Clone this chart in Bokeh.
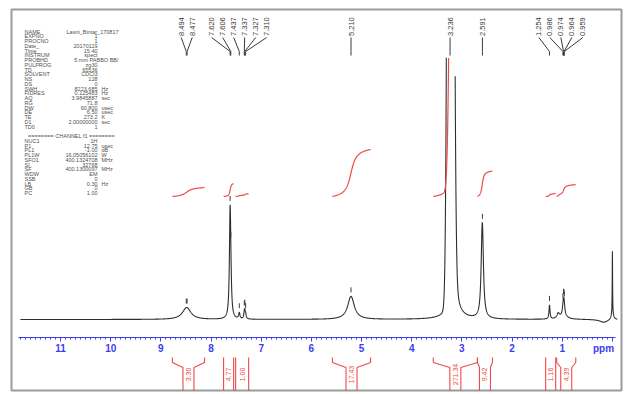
import numpy as np
from bokeh.plotting import figure
from bokeh.models import Range1d, FixedTicker, Label
from bokeh.core.properties import value
from bokeh.embed import file_html
from bokeh.resources import INLINE

# ---------------- data ----------------
# spectrum peaks: position (ppm), height (intensity units), half width (ppm), shape
peak_ppm = [8.494, 8.477, 7.620, 7.606, 7.437, 7.337, 7.327, 7.310, 5.210,
            3.236, 3.200, 3.170, 2.591, 2.606, 1.254, 1.080,
            0.986, 0.974, 0.964, 0.959, 0.970, 0.000, 0.000, 0.170]
peak_height = [6, 6, 103, 20, 6, 5, 6, 4, 23,
               1300, 600, 45, 86, 15, 14, 5,
               5, 8, 6, 4, 4, 63, 6, -3]
peak_width = [0.10, 0.10, 0.016, 0.016, 0.015, 0.012, 0.012, 0.012, 0.08,
              0.040, 0.040, 0.09, 0.025, 0.02, 0.012, 0.03,
              0.015, 0.015, 0.015, 0.015, 0.08, 0.004, 0.03, 0.10]
peak_shape = ["L", "L", "L", "L", "L", "L", "L", "L", "L",
              "G", "G", "L", "L", "L", "L", "L",
              "L", "L", "L", "L", "L", "L", "L", "L"]

# picked peak labels (top)
label_ppm = [8.494, 8.477, 7.620, 7.606, 7.437, 7.337, 7.327, 7.310, 5.210,
             3.236, 2.591, 1.254, 0.986, 0.974, 0.964, 0.959]

# integrals (bottom)
int_start = [8.77, 7.75, 7.51, 5.58, 3.57, 2.69, 1.33, 1.11]
int_end = [8.13, 7.55, 7.25, 4.82, 2.69, 2.39, 1.13, 0.73]
int_value = [3.30, 4.77, 1.00, 17.43, 271.34, 9.42, 1.16, 4.39]
int_label = ["3.30", "4.77", "1.00", "17.43", "271.34", "9.42", "1.16", "4.39"]

# axis ticks
tick_values = [0, 1, 2, 3, 4, 5, 6, 7, 8, 9, 10, 11]
tick_labels = ["", "1", "2", "3", "4", "5", "6", "7", "8", "9", "10", "11"]

# acquisition parameter block
param_names = ["NAME", "EXPNO", "PROCNO", "Date_", "Time", "INSTRUM", "PROBHD",
               "PULPROG", "TD", "SOLVENT", "NS", "DS", "SWH", "FIDRES", "AQ",
               "RG", "DW", "DE", "TE", "D1", "TD0", "",
               "", "NUC1", "P1", "PL1", "PL1W", "SFO1", "SI", "SF", "WDW",
               "SSB", "LB", "GB", "PC"]
param_values = ["Lasni_Bintar_170817", "1", "1", "20170119", "15.40", "spect",
                "5 mm PABBO BB/", "zg30", "65536", "CDCl3", "128", "0",
                "8223.685", "0.125483", "3.9845887", "71.8", "60.800", "6.50",
                "273.2", "2.00000000", "1", "",
                "", "1H", "12.75", "-1.00", "16.05056102", "400.1324708",
                "32768", "400.1300097", "EM", "0", "0.30", "0", "1.00"]
param_units = ["", "", "", "", "", "", "", "", "", "", "", "", "Hz", "Hz", "sec",
               "", "usec", "usec", "K", "sec", "", "",
               "", "", "usec", "dB", "W", "MHz", "", "MHz", "", "", "Hz", "", ""]
channel_title = "======== CHANNEL f1 ========"

# ---------------- geometry helpers (page pixels -> data) ----------------
PX = 50.17      # pixels per ppm
X0 = 611.9      # page x of 0 ppm
BASE_Y = 319    # page y of the spectrum baseline
FL, FT, FR, FB = 11, 9, 621, 390   # frame edges on the page


def xp(page_x):
    return (X0 - page_x) / PX


def yp(page_y):
    return BASE_Y - page_y


p = figure(width=627, height=394, output_backend="svg", toolbar_location=None,
           x_range=Range1d(xp(FL), xp(FR)), y_range=Range1d(yp(FB), yp(FT)),
           min_border_left=FL, min_border_top=FT, min_border_right=627 - FR,
           min_border_bottom=394 - FB, y_axis_location=None)
p.grid.visible = False
p.outline_line_color = "#9c9c9c"
p.outline_line_width = 2
p.background_fill_color = "white"
p.border_fill_color = "white"

# ---------------- spectrum ----------------
ppm = np.arange(11.80, -0.10, -0.002)
spec = np.zeros_like(ppm)
for c, h, w, s in zip(peak_ppm, peak_height, peak_width, peak_shape):
    if s == "G":
        spec += h * np.exp(-0.5 * ((ppm - c) / w) ** 2)
    else:
        spec += h / (1 + ((ppm - c) / w) ** 2)

clip = yp(56)
spec_plot = np.where(spec > clip, np.nan, spec)
p.line(ppm, spec_plot, line_color="#2e2e2e", line_width=1.1)

# ---------------- integrals ----------------
RED = "#f04848"
int_base = yp(196)
k = 47 / 17.43
for a, b, v in zip(int_start, int_end, int_value):
    m = (ppm <= a) & (ppm >= b)
    seg = np.clip(spec[m], 0, None)
    cum = np.cumsum(seg)
    cum = cum / cum[-1] * v * k + int_base
    cum = np.where(cum > clip, np.nan, cum)
    p.line(ppm[m], cum, line_color=RED, line_width=1.2)

# brackets + values under the axis
g = 5.5 / PX
y_top, y_mid, y_diag, y_bot = yp(357), yp(362), yp(367), yp(396)
bxs, bys = [], []
for a, b in zip(int_start, int_end):
    c = (a + b) / 2
    half = (a - b) / 2
    if half > g + 2 / PX:
        bxs += [[a, a, c + g, c + g], [b, b, c - g, c - g]]
        bys += [[y_top, y_mid, y_diag, y_bot]] * 2
    else:
        bxs += [[a, a], [b, b]]
        bys += [[y_top, y_bot]] * 2
p.multi_line(bxs, bys, line_color=RED, line_width=1.1)
p.text([(a + b) / 2 for a, b in zip(int_start, int_end)], [yp(374)] * len(int_label),
       text=int_label, angle=np.pi / 2, text_align="center", text_baseline="middle",
       text_color=RED, text_font=value("Liberation Sans"), text_font_size="7px")

# ---------------- peak labels on top ----------------
peak_px = [X0 - PX * v for v in label_ppm]
SP = 11.0
clusters = [[i] for i in range(len(peak_px))]


def place(cl):
    cen = np.mean([peak_px[i] for i in cl])
    return [cen + (j - (len(cl) - 1) / 2) * SP for j in range(len(cl))]


merged = True
while merged:
    merged = False
    for ci in range(len(clusters) - 1):
        if place(clusters[ci])[-1] + SP > place(clusters[ci + 1])[0]:
            clusters[ci] = clusters[ci] + clusters[ci + 1]
            del clusters[ci + 1]
            merged = True
            break
label_px = []
for cl in clusters:
    label_px += place(cl)

cxs = [[xp(lx), xp(pxv), xp(pxv)] for lx, pxv in zip(label_px, peak_px)]
cys = [[yp(37), yp(51), yp(55)]] * len(label_px)
p.multi_line(cxs, cys, line_color="#3a3a3a", line_width=1)
p.text([xp(lx) for lx in label_px], [yp(35.5)] * len(label_px),
       text=[f"{v:.3f}" for v in label_ppm], angle=np.pi / 2,
       text_align="left", text_baseline="middle", text_color="#3a3a3a",
       text_font=value("Liberation Sans"), text_font_size="7.5px")

# peak-pick markers above peaks
mk_x, mk_y0, mk_y1 = [], [], []
for v in label_ppm:
    top = float(np.interp(v, ppm[::-1], spec[::-1]))
    if top + 9 < clip:
        mk_x.append(v)
        mk_y0.append(top + 4)
        mk_y1.append(top + 9)
p.segment(mk_x, mk_y0, mk_x, mk_y1, line_color="#3a3a3a", line_width=1)

# ---------------- parameter block ----------------
rows_y = [yp(31 + 4.75 * i) for i in range(len(param_names))]
long_vals = {"NAME", "PROBHD"}
nx, ny, nt = [], [], []
vx, vy, vt = [], [], []
lx_, ly_, lt_ = [], [], []
ux, uy, ut = [], [], []
for nm, vl, un, yy in zip(param_names, param_values, param_units, rows_y):
    if nm:
        nx.append(xp(24)); ny.append(yy); nt.append(nm)
    if vl:
        if nm in long_vals:
            lx_.append(xp(118)); ly_.append(yy); lt_.append(vl)
        else:
            vx.append(xp(97)); vy.append(yy); vt.append(vl)
    if un:
        ux.append(xp(101)); uy.append(yy); ut.append(un)
PFONT = dict(text_font=value("Liberation Sans"), text_font_size="5.5px",
             text_color="#505050", text_baseline="middle")
p.text(nx, ny, text=nt, text_align="left", **PFONT)
p.text(vx, vy, text=vt, text_align="right", **PFONT)
p.text(lx_, ly_, text=lt_, text_align="right", **PFONT)
p.text(ux, uy, text=ut, text_align="left", **PFONT)
p.text([xp(71)], [yp(31 + 4.75 * 22)], text=[channel_title], text_align="center", **PFONT)

# ---------------- axis inside the frame ----------------
BLUE = "#3c3cf0"
ax = p.xaxis[0]
ax.fixed_location = yp(337)
ax.ticker = FixedTicker(ticks=tick_values,
                        minor_ticks=[round(i * 0.1, 1) for i in range(0, 119)])
ax.major_label_overrides = {t: l for t, l in zip(tick_values, tick_labels)}
ax.bounds = (xp(615), xp(18))
ax.axis_line_color = BLUE
ax.major_tick_line_color = BLUE
ax.minor_tick_line_color = BLUE
ax.major_tick_in = 0
ax.major_tick_out = 4
ax.minor_tick_in = 0
ax.minor_tick_out = 2
ax.major_label_standoff = 2
ax.major_label_text_color = BLUE
ax.major_label_text_font = "Liberation Sans"
ax.major_label_text_font_style = "bold"
ax.major_label_text_font_size = "10px"

p.add_layout(Label(x=xp(603), y=yp(348), text="ppm", text_color=BLUE,
                   text_font="Liberation Sans", text_font_style="bold",
                   text_font_size="10px", text_align="center",
                   text_baseline="middle"))

open("out.html", "w").write(file_html(p, INLINE))
